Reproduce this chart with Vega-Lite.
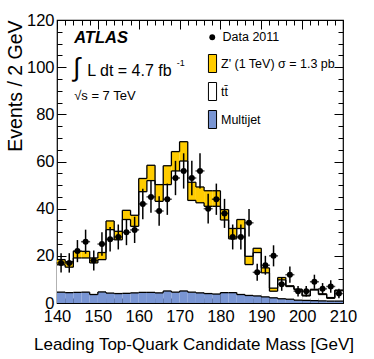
{
  "$schema": "https://vega.github.io/schema/vega-lite/v6.json",
  "width": 286,
  "height": 283,
  "autosize": {"type": "none"},
  "padding": {"left": 57, "top": 20, "right": 31, "bottom": 56},
  "background": "white",
  "config": {
    "font": "Liberation Sans",
    "view": {"stroke": "black", "strokeWidth": 1.2},
    "axis": {
      "domain": false, "grid": false, "tickColor": "black", "tickWidth": 1,
      "labelColor": "black", "labelFont": "Liberation Sans", "labelFontSize": 16.5,
      "titleFont": "Liberation Sans", "titleFontSize": 16, "titleFontWeight": "normal", "titleColor": "black",
      "labelOverlap": false, "labelFlush": false, "labelBound": false, "zindex": 1
    }
  },
  "data": {"values": [
    {"lo": 140, "hi": 142, "mid": 141, "mj": 4.6, "tt": 11.6, "zp": 2.2, "data": 17, "err": 4.12},
    {"lo": 142, "hi": 144, "mid": 143, "mj": 4.4, "tt": 10.8, "zp": 2.3, "data": 17, "err": 4.12},
    {"lo": 144, "hi": 146, "mid": 145, "mj": 4.5, "tt": 14.6, "zp": 2.8, "data": 22, "err": 4.69},
    {"lo": 146, "hi": 148, "mid": 147, "mj": 4.6, "tt": 14.5, "zp": 2.8, "data": 26, "err": 5.1},
    {"lo": 148, "hi": 150, "mid": 149, "mj": 3.6, "tt": 13.4, "zp": 2.1, "data": 18, "err": 4.24},
    {"lo": 150, "hi": 152, "mid": 151, "mj": 4.7, "tt": 13.7, "zp": 3.0, "data": 25, "err": 5.0},
    {"lo": 152, "hi": 154, "mid": 153, "mj": 4.2, "tt": 26.9, "zp": 3.7, "data": 27, "err": 5.2},
    {"lo": 154, "hi": 156, "mid": 155, "mj": 4.0, "tt": 22.8, "zp": 3.6, "data": 28, "err": 5.29},
    {"lo": 156, "hi": 158, "mid": 157, "mj": 4.1, "tt": 31.3, "zp": 3.9, "data": 30, "err": 5.48},
    {"lo": 158, "hi": 160, "mid": 159, "mj": 4.3, "tt": 28.2, "zp": 4.7, "data": 31, "err": 5.57},
    {"lo": 160, "hi": 162, "mid": 161, "mj": 4.5, "tt": 42.7, "zp": 5.6, "data": 42, "err": 6.48},
    {"lo": 162, "hi": 164, "mid": 163, "mj": 4.5, "tt": 47.4, "zp": 6.5, "data": 45, "err": 6.71},
    {"lo": 164, "hi": 166, "mid": 165, "mj": 4.3, "tt": 38.8, "zp": 7.1, "data": 39, "err": 6.24},
    {"lo": 166, "hi": 168, "mid": 167, "mj": 5.1, "tt": 45.1, "zp": 8.0, "data": 44, "err": 6.63},
    {"lo": 168, "hi": 170, "mid": 169, "mj": 4.6, "tt": 51.4, "zp": 8.2, "data": 53, "err": 7.28},
    {"lo": 170, "hi": 172, "mid": 171, "mj": 5.1, "tt": 55.1, "zp": 8.2, "data": 56, "err": 7.48},
    {"lo": 172, "hi": 174, "mid": 173, "mj": 4.6, "tt": 38.9, "zp": 7.7, "data": 53, "err": 7.28},
    {"lo": 174, "hi": 176, "mid": 175, "mj": 4.3, "tt": 38.2, "zp": 6.7, "data": 56, "err": 7.48},
    {"lo": 176, "hi": 178, "mid": 177, "mj": 4.0, "tt": 37.0, "zp": 6.6, "data": 40, "err": 6.32},
    {"lo": 178, "hi": 180, "mid": 179, "mj": 3.8, "tt": 37.2, "zp": 6.6, "data": 44, "err": 6.63},
    {"lo": 180, "hi": 182, "mid": 181, "mj": 4.4, "tt": 30.8, "zp": 4.4, "data": 38, "err": 6.16},
    {"lo": 182, "hi": 184, "mid": 183, "mj": 4.4, "tt": 22.8, "zp": 4.4, "data": 28, "err": 5.29},
    {"lo": 184, "hi": 186, "mid": 185, "mj": 3.6, "tt": 28.0, "zp": 3.8, "data": 28, "err": 5.29},
    {"lo": 186, "hi": 188, "mid": 187, "mj": 3.2, "tt": 13.1, "zp": 3.5, "data": 34, "err": 5.83},
    {"lo": 188, "hi": 190, "mid": 189, "mj": 3.0, "tt": 18.4, "zp": 1.8, "data": 13, "err": 3.61},
    {"lo": 190, "hi": 192, "mid": 191, "mj": 2.6, "tt": 10.2, "zp": 2.1, "data": 16, "err": 4.0},
    {"lo": 192, "hi": 194, "mid": 193, "mj": 2.2, "tt": 2.8, "zp": 1.3, "data": 20, "err": 4.47},
    {"lo": 194, "hi": 196, "mid": 195, "mj": 1.8, "tt": 8.0, "zp": 1.0, "data": 8, "err": 2.83},
    {"lo": 196, "hi": 198, "mid": 197, "mj": 1.6, "tt": 5.4, "zp": 0.3, "data": 12, "err": 3.46},
    {"lo": 198, "hi": 200, "mid": 199, "mj": 1.2, "tt": 4.4, "zp": 0.3, "data": 5, "err": 2.24},
    {"lo": 200, "hi": 202, "mid": 201, "mj": 1.1, "tt": 1.9, "zp": 0.3, "data": 5, "err": 2.24},
    {"lo": 202, "hi": 204, "mid": 203, "mj": 1.0, "tt": 4.5, "zp": 0.3, "data": 9, "err": 3.0},
    {"lo": 204, "hi": 206, "mid": 205, "mj": 0.9, "tt": 2.7, "zp": 0.3, "data": 6, "err": 2.45},
    {"lo": 206, "hi": 208, "mid": 207, "mj": 0.8, "tt": 1.2, "zp": 0.3, "data": 7, "err": 2.65},
    {"lo": 208, "hi": 210, "mid": 209, "mj": 0.8, "tt": 4.4, "zp": 0.3, "data": 4, "err": 2.0}
  ]},
  "resolve": {"axis": {"x": "independent", "y": "independent"}},
  "layer": [
    {
      "transform": [
        {"fold": ["mj", "tt", "zp"], "as": ["process", "value"]},
        {"stack": "value", "groupby": ["lo"], "sort": [{"field": "process", "order": "ascending"}], "as": ["y0", "y1"]}
      ],
      "mark": {"type": "bar", "strokeWidth": 0},
      "encoding": {
        "x": {"field": "lo", "type": "quantitative", "scale": {"domain": [140, 210], "nice": false, "zero": false},
          "axis": {"orient": "bottom", "values": [140,142,144,146,148,150,152,154,156,158,160,162,164,166,168,170,172,174,176,178,180,182,184,186,188,190,192,194,196,198,200,202,204,206,208,210],
            "labelExpr": "datum.value % 10 === 0 ? datum.label : ''",
            "tickSize": {"condition": {"test": "datum.value % 10 === 0", "value": -9}, "value": -5},
            "labelPadding": 14, "title": "Leading Top-Quark Candidate Mass [GeV]", "titleFontSize": 17,
            "titleX": 136.5, "titleY": 33, "titleAlign": "center", "titleBaseline": "top"}},
        "x2": {"field": "hi"},
        "y": {"field": "y1", "type": "quantitative", "scale": {"domain": [0, 120], "nice": false},
          "axis": {"orient": "left", "values": [0,5,10,15,20,25,30,35,40,45,50,55,60,65,70,75,80,85,90,95,100,105,110,115,120],
            "labelExpr": "datum.value % 20 === 0 ? datum.label : ''",
            "tickSize": {"condition": {"test": "datum.value % 20 === 0", "value": -9}, "value": -5},
            "labelPadding": 12, "title": "Events / 2 GeV", "titleFontSize": 19.5,
            "titleAnchor": "end", "titlePadding": 1}},
        "y2": {"field": "y0"},
        "fill": {"field": "process", "type": "nominal",
          "scale": {"domain": ["zp", "tt", "mj"], "range": ["#FFCC00", "#FFFFFF", "#7995D3"]},
          "legend": {"orient": "none", "legendX": 146, "legendY": 34, "title": null,
            "symbolType": "M-0.45,-1H0.45V1H-0.45Z", "symbolSize": 324, "symbolStrokeColor": "black", "symbolStrokeWidth": 1,
            "symbolOpacity": 1, "labelFontSize": 12.5, "labelColor": "black", "labelOffset": -1, "rowPadding": 5,
            "labelExpr": "datum.value === 'zp' ? \"Z' (1 TeV) σ = 1.3 pb\" : (datum.value === 'tt' ? 'tt̄' : 'Multijet')"}}
      }
    },
    {
      "transform": [
        {"fold": ["mj", "tt", "zp"], "as": ["process", "value"]},
        {"stack": "value", "groupby": ["lo"], "sort": [{"field": "process", "order": "ascending"}], "as": ["y0", "y1"]}
      ],
      "mark": {"type": "rule", "color": "black", "strokeWidth": 1.3},
      "encoding": {
        "x": {"field": "lo", "type": "quantitative", "scale": {"domain": [140, 210], "nice": false, "zero": false},
          "axis": {"orient": "top", "labels": false, "title": null, "values": [140,142,144,146,148,150,152,154,156,158,160,162,164,166,168,170,172,174,176,178,180,182,184,186,188,190,192,194,196,198,200,202,204,206,208,210],
            "tickSize": {"condition": {"test": "datum.value % 10 === 0", "value": -9}, "value": -5}}},
        "x2": {"field": "hi"},
        "y": {"field": "y1", "type": "quantitative", "scale": {"domain": [0, 120], "nice": false},
          "axis": {"orient": "right", "labels": false, "title": null, "values": [0,5,10,15,20,25,30,35,40,45,50,55,60,65,70,75,80,85,90,95,100,105,110,115,120],
            "tickSize": {"condition": {"test": "datum.value % 20 === 0", "value": -9}, "value": -5}}}
      }
    },
    {
      "transform": [
        {"fold": ["mj", "tt", "zp"], "as": ["process", "value"]},
        {"stack": "value", "groupby": ["lo"], "sort": [{"field": "process", "order": "ascending"}], "as": ["y0", "y1"]},
        {"window": [{"op": "lead", "field": "y1", "as": "next"}], "groupby": ["process"], "sort": [{"field": "lo", "order": "ascending"}]},
        {"filter": "isValid(datum.next)"}
      ],
      "mark": {"type": "rule", "color": "black", "strokeWidth": 1.3},
      "encoding": {
        "x": {"field": "hi", "type": "quantitative", "scale": {"domain": [140, 210], "nice": false, "zero": false}, "axis": null},
        "y": {"field": "y1", "type": "quantitative", "scale": {"domain": [0, 120], "nice": false}, "axis": null},
        "y2": {"field": "next"}
      }
    },
    {
      "mark": {"type": "errorbar", "ticks": false, "color": "black", "thickness": 1.5},
      "encoding": {
        "x": {"field": "mid", "type": "quantitative", "axis": null},
        "y": {"field": "data", "type": "quantitative", "axis": null},
        "yError": {"field": "err"}
      }
    },
    {
      "mark": {"type": "tick", "orient": "horizontal", "size": 9, "thickness": 1.5, "color": "black"},
      "encoding": {
        "x": {"field": "mid", "type": "quantitative", "axis": null},
        "y": {"field": "data", "type": "quantitative", "axis": null}
      }
    },
    {
      "mark": {"type": "point", "filled": true, "size": 36, "opacity": 1, "color": "black"},
      "encoding": {
        "x": {"field": "mid", "type": "quantitative", "axis": null},
        "y": {"field": "data", "type": "quantitative", "axis": null},
        "shape": {"datum": "Data 2011", "scale": {"range": ["circle"]},
          "legend": {"orient": "none", "legendX": 149, "legendY": 11, "title": null, "labelFontSize": 12.5, "labelColor": "black",
            "symbolFillColor": "black", "symbolStrokeColor": "black", "symbolSize": 34, "labelOffset": 4}}
      }
    },
    {
      "data": {"values": [{}]},
      "mark": {"type": "text", "text": "ATLAS", "fontSize": 16.5, "fontWeight": "bold", "fontStyle": "italic", "align": "left", "baseline": "alphabetic", "color": "black"},
      "encoding": {
        "x": {"datum": 144.2, "type": "quantitative", "axis": null},
        "y": {"datum": 110.4, "type": "quantitative", "axis": null}
      }
    },
    {
      "data": {"values": [{}]},
      "mark": {"type": "text", "text": "∫", "fontSize": 26, "align": "left", "baseline": "middle", "color": "black"},
      "encoding": {
        "x": {"datum": 143.9, "type": "quantitative", "axis": null},
        "y": {"datum": 99.6, "type": "quantitative", "axis": null}
      }
    },
    {
      "data": {"values": [{}]},
      "mark": {"type": "text", "text": "L dt = 4.7 fb", "fontSize": 16, "align": "left", "baseline": "middle", "color": "black"},
      "encoding": {
        "x": {"datum": 147.4, "type": "quantitative", "axis": null},
        "y": {"datum": 98.5, "type": "quantitative", "axis": null}
      }
    },
    {
      "data": {"values": [{}]},
      "mark": {"type": "text", "text": "-1", "fontSize": 9, "align": "left", "baseline": "middle", "color": "black"},
      "encoding": {
        "x": {"datum": 169.3, "type": "quantitative", "axis": null},
        "y": {"datum": 101.8, "type": "quantitative", "axis": null}
      }
    },
    {
      "data": {"values": [{}]},
      "mark": {"type": "text", "text": "√s = 7 TeV", "fontSize": 13, "align": "left", "baseline": "middle", "color": "black"},
      "encoding": {
        "x": {"datum": 144.2, "type": "quantitative", "axis": null},
        "y": {"datum": 87.9, "type": "quantitative", "axis": null}
      }
    }
  ]
}
